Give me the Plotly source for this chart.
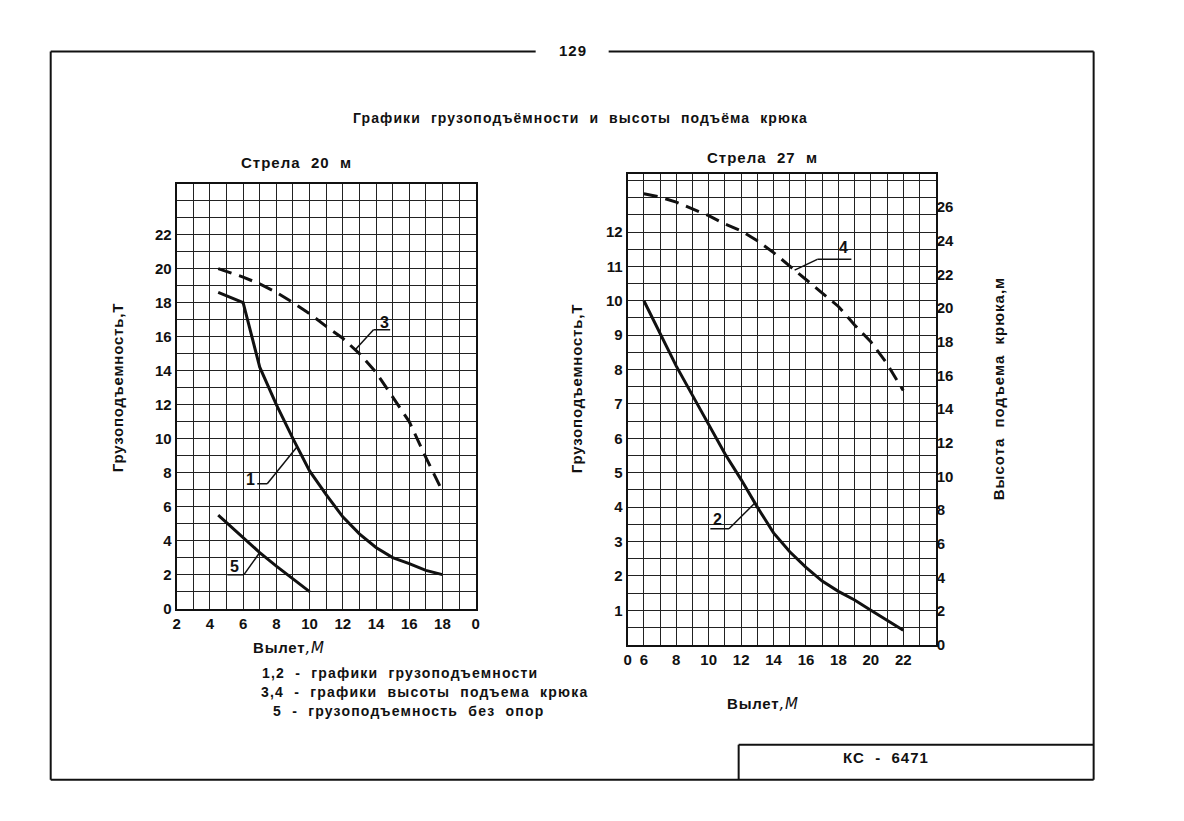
import numpy as np
import plotly.graph_objects as go

W, H = 1184, 821

# ---- Стрела 20 м (левый график) ----
vylet_20 = [4.5, 6, 7, 8, 9, 10, 11, 12, 13, 14, 15, 16, 17, 18]
gruz_1 = [18.6, 18.0, 14.2, 12.0, 10.0, 8.1, 6.7, 5.4, 4.4, 3.6, 3.0, 2.65, 2.25, 2.0]
vysota_3 = [20.0, 19.5, 19.1, 18.6, 18.0, 17.35, 16.6, 15.9, 15.0, 13.9, 12.45, 11.0, 8.9, 6.9]
vylet_5 = [4.5, 6, 7, 8, 9, 10]
gruz_5 = [5.5, 4.2, 3.3, 2.5, 1.75, 1.0]

# ---- Стрела 27 м (правый график) ----
vylet_27 = [6, 7, 8, 9, 10, 11, 12, 13, 14, 15, 16, 17, 18, 19, 20, 21, 22]
gruz_2 = [10.0, 9.05, 8.1, 7.25, 6.4, 5.55, 4.8, 4.0, 3.25, 2.7, 2.25, 1.85, 1.55, 1.3, 1.0, 0.7, 0.42]
vysota_4 = [26.8, 26.6, 26.3, 25.9, 25.5, 25.0, 24.6, 24.0, 23.3, 22.5, 21.7, 20.9, 20.1, 19.0, 18.0, 16.7, 15.1]

# подписи осей
x20_ticks = list(range(2, 21))
x20_text = [str(v) if v % 2 == 0 else "" for v in x20_ticks]
x20_text[-1] = "0"
y20_ticks = list(range(0, 26))
y20_text = [str(v) if v % 2 == 0 and v <= 22 else "" for v in y20_ticks]
y20r_ticks = list(range(2, 23, 2))

x27_ticks = list(range(5, 25))
x27_text = [str(v) if v % 2 == 0 and v <= 22 else "" for v in x27_ticks]
x27_text[0] = "0"
y27_ticks = [v / 2 for v in range(0, 28)]
y27_text = [str(int(v)) if v == int(v) and 1 <= v <= 12 else "" for v in y27_ticks]
y27r_ticks = list(range(0, 27, 2))

FONT = "Liberation Sans"
BLACK = "#111111"


# пиксели листа -> доли paper (с небольшой поправкой на масштаб снимка)
def px(x):
    return ((x - 3.3) / 0.9933) / W


def py(y):
    return 1 - ((y + 0.5) / 0.990) / H


fig = go.Figure()

curve = dict(color=BLACK, width=3)
dashed = dict(color=BLACK, width=3, dash="14px,8px")
fig.add_trace(go.Scatter(x=vylet_20, y=gruz_1, xaxis="x", yaxis="y", mode="lines", line=curve))
fig.add_trace(go.Scatter(x=vylet_20, y=vysota_3, xaxis="x", yaxis="y", mode="lines", line=dashed))
fig.add_trace(go.Scatter(x=vylet_5, y=gruz_5, xaxis="x", yaxis="y", mode="lines", line=curve))
fig.add_trace(go.Scatter(x=vylet_27, y=gruz_2, xaxis="x2", yaxis="y3", mode="lines", line=curve))
fig.add_trace(go.Scatter(x=vylet_27, y=vysota_4, xaxis="x2", yaxis="y4", mode="lines", line=dashed))


# выноски с номерами кривых
def leader(label, hx, hy, at, xs, ys, lx, ly, xa, ya):
    # горизонтальная полка hx[0]..hx[1] на высоте hy, затем наклон к кривой в точке at
    cy = float(np.interp(at, xs, ys))
    start = hx[1] if at > hx[1] else hx[0]
    xx = [hx[0], hx[1], None, start, at]
    yy = [hy, hy, None, hy, cy]
    fig.add_trace(go.Scatter(x=xx, y=yy, xaxis=xa, yaxis=ya, mode="lines",
                             line=dict(color=BLACK, width=1.5), hoverinfo="skip"))
    fig.add_annotation(x=lx, y=ly, xref=xa, yref=ya, text="<b>%s</b>" % label, showarrow=False,
                       font=dict(family=FONT, size=16, color=BLACK))


leader("1", (6.85, 7.45), 7.35, 9.25, vylet_20, gruz_1, 6.45, 7.6, "x", "y")
leader("3", (13.85, 14.85), 16.4, 12.75, vylet_20, vysota_3, 14.5, 16.85, "x", "y")
leader("5", (5.05, 6.05), 2.0, 7.0, vylet_5, gruz_5, 5.45, 2.5, "x", "y")
leader("4", (16.7, 18.8), 22.9, 15.3, vylet_27, vysota_4, 18.3, 23.6, "x2", "y4")
leader("2", (10.1, 11.25), 3.37, 12.85, vylet_27, gruz_2, 10.55, 3.65, "x2", "y3")

tickfont = dict(family=FONT, size=15, color=BLACK, weight="bold")
base = dict(showgrid=True, gridcolor="#222222", gridwidth=1.4, zeroline=False, showline=True,
            linecolor=BLACK, linewidth=2, mirror=True, ticks="", tickfont=tickfont,
            fixedrange=True, tickmode="array")
side = dict(showgrid=False, zeroline=False, showline=False, ticks="", tickfont=tickfont,
            fixedrange=True, tickmode="array")

fig.update_layout(
    width=W, height=H, autosize=False,
    margin=dict(l=0, r=0, t=0, b=0),
    paper_bgcolor="white", plot_bgcolor="white",
    showlegend=False,
    xaxis=dict(base, domain=[px(176), px(475)], range=[2, 20], anchor="y",
               tickvals=x20_ticks, ticktext=x20_text),
    yaxis=dict(base, domain=[py(608), py(183)], range=[0, 25], anchor="x",
               tickvals=y20_ticks, ticktext=y20_text),
    yaxis2=dict(side, overlaying="y", side="right", anchor="x", range=[0, 25],
                tickvals=y20r_ticks, ticktext=[str(v) for v in y20r_ticks]),
    xaxis2=dict(base, domain=[px(627), px(935)], range=[5, 24], anchor="y3",
                tickvals=x27_ticks, ticktext=x27_text),
    yaxis3=dict(base, domain=[py(644), py(173)], range=[0, 13.7], anchor="x2",
                tickvals=y27_ticks, ticktext=y27_text),
    yaxis4=dict(side, overlaying="y3", side="right", anchor="x2", range=[0, 28],
                tickvals=y27r_ticks, ticktext=[str(v) for v in y27r_ticks]),
)

# рамка листа
frame = [
    (50, 51, 535, 51), (608, 51, 1093, 51),
    (50, 51, 50, 779), (1093, 51, 1093, 779), (50, 779, 1093, 779),
    (738, 744, 1093, 744), (738, 744, 738, 779),
]
for x0, y0, x1, y1 in frame:
    fig.add_shape(type="line", xref="paper", yref="paper",
                  x0=px(x0), y0=py(y0), x1=px(x1), y1=py(y1),
                  line=dict(color=BLACK, width=2))


def text(s, x, y, size=15, angle=0, xanchor="center", spacing=1.0):
    s = "<span style='letter-spacing:%.1fpx'>%s</span>" % (spacing, s)
    fig.add_annotation(x=px(x), y=py(y), xref="paper", yref="paper", text=s, showarrow=False,
                       textangle=angle, xanchor=xanchor, yanchor="middle",
                       font=dict(family=FONT, size=size, color=BLACK))


vylet_title = "<b>Вылет</b><span style='font-family:DejaVu Sans'><i>,М</i></span>"

text("<b>129</b>", 572, 50, size=15)
text("<b>Графики  грузоподъёмности  и  высоты  подъёма  крюка</b>", 580, 117, size=14, spacing=1.1)
text("<b>Стрела  20  м</b>", 296, 162, size=15)
text("<b>Стрела  27  м</b>", 762, 157, size=15)
text("<b>Грузоподъемность,Т</b>", 117, 387, size=15, angle=-90, spacing=0.8)
text("<b>Грузоподъемность,Т</b>", 576, 388, size=15, angle=-90, spacing=0.8)
text("<b>Высота  подъема  крюка,м</b>", 998, 388, size=15, angle=-90, spacing=1.0)
text(vylet_title, 250, 647, size=15, xanchor="left", spacing=0.8)
text(vylet_title, 724, 703, size=15, xanchor="left", spacing=0.8)
text("<b>1,2  -  графики  грузоподъемности</b>", 259, 672, size=14, xanchor="left", spacing=1.2)
text("<b>3,4  -  графики  высоты  подъема  крюка</b>", 258, 691, size=14, xanchor="left", spacing=1.2)
text("<b>5  -  грузоподъемность  без  опор</b>", 270, 710, size=14, xanchor="left", spacing=1.2)
text("<b>КС  -  6471</b>", 885, 757, size=15)

fig.write_html(
    "out.html",
    config={"displayModeBar": False},
    post_script=("document.body.style.margin='0';"
                 "document.body.style.overflow='hidden';"
                 "document.documentElement.style.overflow='hidden';"),
)
